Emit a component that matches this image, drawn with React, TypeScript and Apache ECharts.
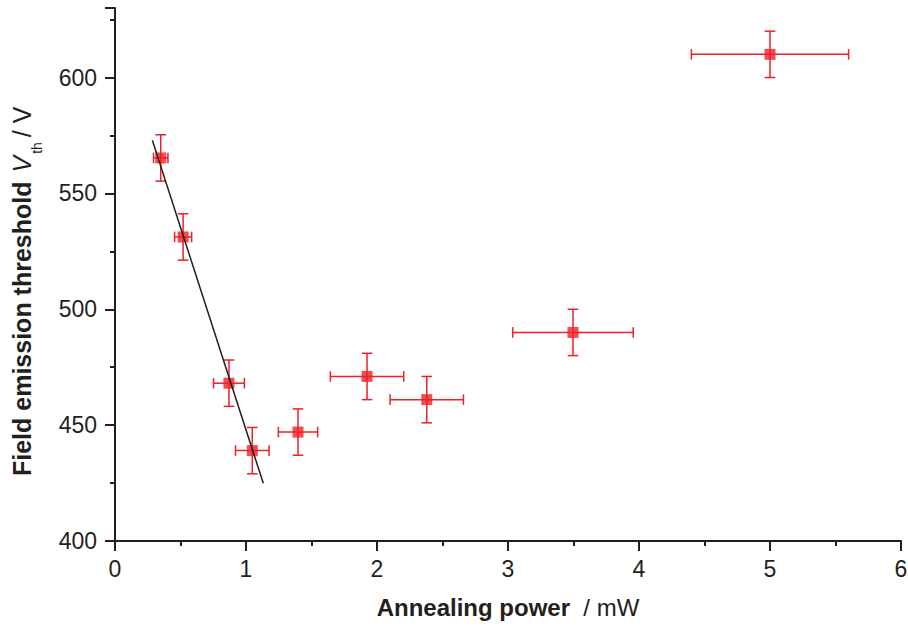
import React, { useEffect, useRef } from "react";
import * as echarts from "echarts";

const powerX = [0.349, 0.52, 0.87, 1.048, 1.397, 1.924, 2.38, 3.496, 5.0];
const thresholdY = [565.3, 531.2, 468.1, 439.0, 447.0, 471.0, 461.0, 490.0, 610.0];
const xErr = [0.055, 0.065, 0.118, 0.128, 0.15, 0.28, 0.28, 0.46, 0.6];
const yErr = [10, 10, 10, 10, 10, 10, 10, 10, 10];
const fitX = [0.285, 1.132];
const fitY = [572.9, 424.9];

const yTitleMain = "Field emission threshold";
const yTitleVar = "V";
const yTitleSub = "th";
const yTitleUnit = "/ V";

const RED = "#ee1f27";
const INK = "#231f20";
const FONT = "Liberation Sans, Arial, Helvetica, sans-serif";

function measure(text: string, font: string): number {
  const c = document.createElement("canvas").getContext("2d");
  if (!c) return text.length * 12;
  c.font = font;
  return c.measureText(text).width;
}

export default function App() {
  const ref = useRef<HTMLDivElement>(null);
  useEffect(() => {
    if (!ref.current) return;
    const chart = echarts.init(ref.current, undefined, { renderer: "svg" });
    const errData = powerX.map((x, i) => [x, thresholdY[i], xErr[i], yErr[i]]);
    const pts = powerX.map((x, i) => [x, thresholdY[i]]);
    const fit = fitX.map((x, i) => [x, fitY[i]]);

    const fs = 25;
    const subFs = 14;
    const wMain = measure(yTitleMain, `bold ${fs}px ${FONT}`);
    const wVar = measure(yTitleVar, `italic ${fs}px ${FONT}`);
    const wSub = measure(yTitleSub, `${subFs}px ${FONT}`);
    const gap1 = 9;
    const gap2 = 2;
    const gap3 = 5;
    const xVar = wMain + gap1;
    const xSub = xVar + wVar + gap2;
    const xUnit = xSub + wSub + gap3;

    chart.setOption({
      animation: false,
      backgroundColor: "#ffffff",
      textStyle: { fontFamily: FONT },
      grid: { left: 115, right: 7, top: 8, bottom: 87, containLabel: false, outerBoundsMode: "none" },
      graphic: [
        {
          type: "group",
          x: 22,
          y: 476,
          rotation: Math.PI / 2,
          silent: true,
          children: [
            { type: "text", x: 0, y: 0, style: { text: yTitleMain, font: `bold ${fs}px ${FONT}`, fill: INK, align: "left", verticalAlign: "middle" } },
            { type: "text", x: xVar, y: 0, style: { text: yTitleVar, font: `italic ${fs}px ${FONT}`, fill: INK, align: "left", verticalAlign: "middle" } },
            { type: "text", x: xSub, y: 15, style: { text: yTitleSub, font: `${subFs}px ${FONT}`, fill: INK, align: "left", verticalAlign: "middle" } },
            { type: "text", x: xUnit, y: 0, style: { text: yTitleUnit, font: `${fs}px ${FONT}`, fill: INK, align: "left", verticalAlign: "middle" } },
          ],
        },
      ],
      xAxis: {
        type: "value",
        min: 0,
        max: 6,
        interval: 1,
        name: "{b|Annealing power}{n|  / mW}",
        nameLocation: "middle",
        nameGap: 54,
        nameTextStyle: {
          rich: {
            b: { fontSize: 24, fontWeight: "bold", color: INK, fontFamily: FONT },
            n: { fontSize: 24, color: INK, fontFamily: FONT },
          },
        },
        axisLine: { show: true, onZero: false, lineStyle: { color: INK, width: 2 } },
        axisTick: { show: true, inside: false, length: 10, lineStyle: { color: INK, width: 2 } },
        minorTick: { show: true, splitNumber: 2, length: 5, lineStyle: { color: INK, width: 2 } },
        axisLabel: { fontSize: 23, color: INK, margin: 16, fontFamily: FONT },
        splitLine: { show: false },
      },
      yAxis: {
        type: "value",
        min: 400,
        max: 630,
        interval: 50,
        axisLine: { show: true, onZero: false, lineStyle: { color: INK, width: 2 } },
        axisTick: { show: true, inside: false, length: 10, lineStyle: { color: INK, width: 2 } },
        minorTick: { show: true, splitNumber: 2, length: 5, lineStyle: { color: INK, width: 2 } },
        axisLabel: { fontSize: 23, color: INK, margin: 18, fontFamily: FONT, showMaxLabel: false },
        splitLine: { show: false },
      },
      series: [
        {
          type: "custom",
          data: errData,
          z: 2,
          renderItem: (params: any, api: any) => {
            const x = api.value(0);
            const y = api.value(1);
            const dx = api.value(2);
            const dy = api.value(3);
            const c = api.coord([x, y]);
            const l = api.coord([x - dx, y]);
            const r = api.coord([x + dx, y]);
            const t = api.coord([x, y + dy]);
            const b = api.coord([x, y - dy]);
            const cap = 5.3;
            const style = { stroke: RED, lineWidth: 1.5 };
            return {
              type: "group",
              children: [
                { type: "line", shape: { x1: l[0], y1: c[1], x2: r[0], y2: c[1] }, style },
                { type: "line", shape: { x1: l[0], y1: c[1] - cap, x2: l[0], y2: c[1] + cap }, style },
                { type: "line", shape: { x1: r[0], y1: c[1] - cap, x2: r[0], y2: c[1] + cap }, style },
                { type: "line", shape: { x1: c[0], y1: t[1], x2: c[0], y2: b[1] }, style },
                { type: "line", shape: { x1: c[0] - cap, y1: t[1], x2: c[0] + cap, y2: t[1] }, style },
                { type: "line", shape: { x1: c[0] - cap, y1: b[1], x2: c[0] + cap, y2: b[1] }, style },
              ],
            };
          },
        },
        {
          type: "scatter",
          data: pts,
          symbol: "rect",
          symbolSize: 11,
          itemStyle: { color: RED },
          z: 3,
        },
        {
          type: "line",
          data: fit,
          showSymbol: false,
          symbol: "none",
          lineStyle: { color: INK, width: 1.5 },
          z: 4,
        },
      ],
    });
    return () => chart.dispose();
  }, []);
  return <div ref={ref} style={{ width: 908, height: 628, position: "absolute", left: 0, top: 0 }} />;
}
